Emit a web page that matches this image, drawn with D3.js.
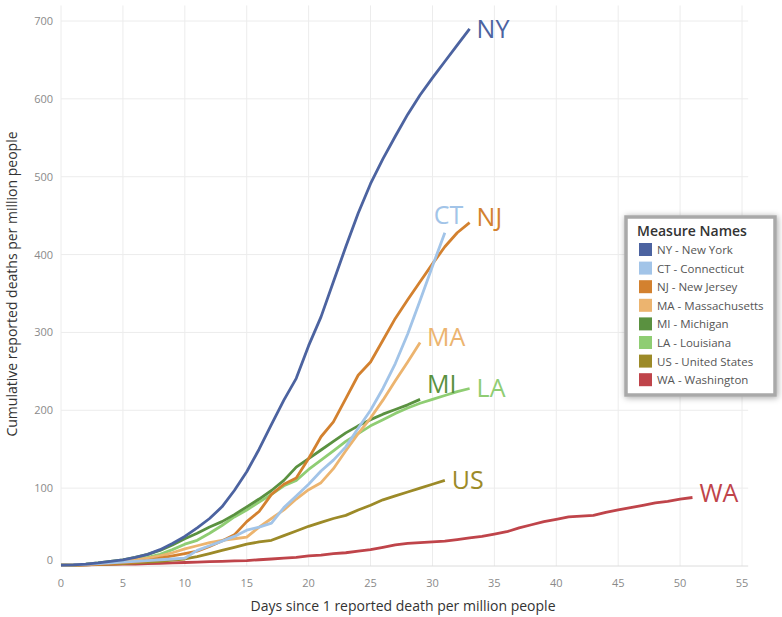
<!DOCTYPE html>
<html>
<head>
<meta charset="utf-8">
<script src="https://cdn.jsdelivr.net/npm/d3@7"></script>
<style>
  body { margin: 0; background: #fff; }
  text { font-family: "Open Sans", "Noto Sans", sans-serif; }
</style>
</head>
<body>
<div class="canvas"></div>
<script>
// data: cumulative deaths per million, one value per day starting at day 0
var states = ['NY', 'CT', 'NJ', 'MA', 'MI', 'LA', 'US', 'WA']
var names = ['NY - New York', 'CT - Connecticut', 'NJ - New Jersey', 'MA - Massachusetts',
             'MI - Michigan', 'LA - Louisiana', 'US - United States', 'WA - Washington']
var colors = ['#4c63a0', '#a2c4e8', '#d3812f', '#ecb46f', '#5a9140', '#8fcd73', '#9c8a28', '#bf444a']

var NY = [1, 1.5, 2.5, 4, 6, 8, 11, 15, 21, 29, 38, 49, 61, 76, 97, 121, 150, 182, 213, 241,
          283, 320, 365, 410, 453, 491, 523, 552, 580, 605, 627, 648, 669, 690]
var CT = [1, 1.5, 2, 3, 4, 5, 6, 7, 8, 9, 10, 20, 26, 32, 38, 46, 50, 55, 75, 90,
          105, 122, 136, 153, 177, 200, 228, 260, 298, 341, 385, 428]
var NJ = [1, 1.2, 1.5, 2, 3, 4, 5, 7, 10, 13, 16, 19, 25, 32, 40, 57, 70, 92, 105, 113,
          138, 166, 185, 215, 245, 262, 290, 318, 342, 365, 388, 410, 428, 441]
var MA = [1, 1.5, 2, 3, 4, 6, 8, 10, 13, 17, 22, 26, 30, 33, 35, 37, 50, 61, 72, 86,
          98, 107, 125, 148, 170, 190, 213, 238, 262, 287]
var MI = [1, 1.5, 2.5, 4, 6, 8, 11, 15, 20, 27, 35, 42, 50, 57, 66, 76, 86, 97, 110, 127,
          138, 149, 160, 171, 180, 188, 195, 201, 207, 214]
var LA = [1, 1.3, 2, 3, 4.5, 6, 8, 11, 15, 21, 28, 33, 42, 52, 63, 72, 82, 92, 103, 110,
          124, 136, 148, 160, 170, 180, 188, 196, 203, 209, 214, 219, 224, 228]
var US = [1, 1.2, 1.5, 2, 2.5, 3, 4, 5, 6, 7.5, 9, 12, 16, 20, 24, 28, 31, 33, 39, 45,
          51, 56, 61, 65, 72, 78, 85, 90, 95, 100, 105, 110]
var WA = [1, 1.2, 1.5, 1.8, 2, 2.3, 2.6, 3, 3.5, 4, 4.5, 5, 5.5, 6, 6.5, 7, 8, 9, 10, 11,
          13, 14, 16, 17, 19, 21, 24, 27, 29, 30, 31, 32, 34, 36, 38, 41, 44, 49, 53, 57,
          60, 63, 64, 65, 69, 72, 75, 78, 81, 83, 86, 88]
var series = [NY, CT, NJ, MA, MI, LA, US, WA]

var xTicks = d3.range(0, 56, 5)
var yTicks = d3.range(0, 701, 100)

var width = 782, height = 617

var svg = d3.select(".canvas").append("svg").attr("width", width).attr("height", height)

var x = d3.scaleLinear().domain([0, 55]).range([61, 742])
var y = d3.scaleLinear().domain([0, 700]).range([566, 21])

var plotTop = y(720), plotRight = x(55.5)

// gridlines
svg.append('g').selectAll('line').data(xTicks).join('line')
    .attr('x1', d => x(d)).attr('x2', d => x(d))
    .attr('y1', plotTop).attr('y2', y(0))
    .attr('stroke', '#ececec').attr('stroke-width', 1)

svg.append('g').selectAll('line').data(yTicks).join('line')
    .attr('x1', x(0)).attr('x2', plotRight)
    .attr('y1', d => y(d)).attr('y2', d => y(d))
    .attr('stroke', d => d == 0 ? '#dcdcdc' : '#ececec').attr('stroke-width', 1)

// tick labels
svg.append('g').selectAll('text').data(xTicks).join('text')
    .attr('x', d => x(d)).attr('y', 587)
    .attr('text-anchor', 'middle')
    .attr('font-size', 11).attr('fill', '#8a8a8a')
    .text(d => d)

svg.append('g').selectAll('text').data(yTicks).join('text')
    .attr('x', 53).attr('y', d => d == 0 ? y(d) - 2 : y(d) + 4)
    .attr('text-anchor', 'end')
    .attr('font-size', 11).attr('fill', '#8a8a8a')
    .text(d => d)

// axis titles
svg.append('text')
    .attr('x', 403).attr('y', 611)
    .attr('text-anchor', 'middle')
    .attr('font-size', 14).attr('fill', '#333')
    .text('Days since 1 reported death per million people')

svg.append('text')
    .attr('transform', 'translate(17,284) rotate(-90)')
    .attr('text-anchor', 'middle')
    .attr('font-size', 14).attr('fill', '#333')
    .text('Cumulative reported deaths per million people')

// lines, WA first so NY ends up on top
var line = d3.line().x((d, i) => x(i)).y(d => y(d))

for (let k = series.length - 1; k >= 0; k--) {
    svg.append('path')
        .datum(series[k])
        .attr('d', line)
        .attr('fill', 'none')
        .attr('stroke', colors[k])
        .attr('stroke-width', 2.8)
        .attr('stroke-linejoin', 'round')
}

// end labels (dy shifts where the label sits off the line end)
var labelDy = [0, -18, -5, -5, -15, 0, 0, -4]
series.forEach(function(s, k) {
    var last = s.length - 1
    svg.append('text')
        .attr('x', x(last) + (k == 1 ? -11 : 7))
        .attr('y', y(s[last]) + labelDy[k])
        .attr('dy', '0.35em')
        .attr('font-size', 25)
        .attr('fill', colors[k])
        .text(states[k])
})

// legend
var defs = svg.append('defs')
var f = defs.append('filter').attr('id', 'shadow')
    .attr('x', '-20%').attr('y', '-20%').attr('width', '140%').attr('height', '140%')
f.append('feDropShadow').attr('dx', 1).attr('dy', 1).attr('stdDeviation', 3)
    .attr('flood-color', '#000').attr('flood-opacity', 0.35)

var lg = svg.append('g').attr('transform', 'translate(626,217)')
lg.append('rect')
    .attr('width', 149).attr('height', 178)
    .attr('fill', '#fff')
    .attr('stroke', '#a9a9a9').attr('stroke-width', 3.5)
    .attr('filter', 'url(#shadow)')

lg.append('text')
    .attr('x', 11).attr('y', 19)
    .attr('font-size', 14).attr('font-weight', 600).attr('fill', '#333')
    .text('Measure Names')

var items = lg.selectAll('.item').data(names).join('g')
    .attr('class', 'item')
    .attr('transform', (d, i) => 'translate(13,' + (26 + i * 18.6) + ')')

items.append('rect')
    .attr('width', 13).attr('height', 13)
    .attr('fill', (d, i) => colors[i])

items.append('text')
    .attr('x', 18).attr('y', 7).attr('dy', '0.35em')
    .attr('font-size', 11.5).attr('fill', '#555')
    .text(d => d)
</script>
</body>
</html>
